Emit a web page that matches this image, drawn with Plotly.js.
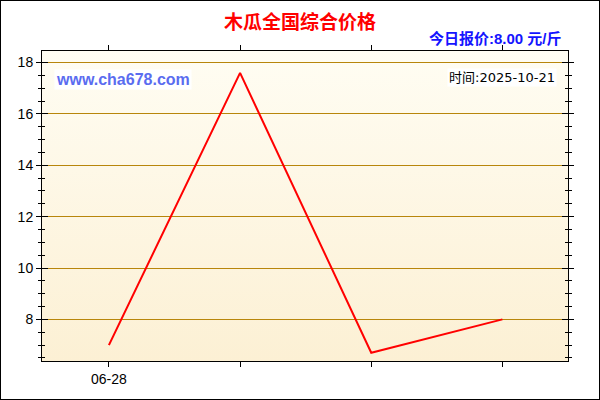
<!DOCTYPE html>
<html>
<head>
<meta charset="utf-8">
<script src="https://cdn.plot.ly/plotly-3.0.1.min.js"></script>
<style>
  body { margin: 0; background: #fff; }
  #chart { width: 600px; height: 400px; box-sizing: border-box; border: 1px solid #000; }
</style>
</head>
<body>
<div id="chart"></div>
<script>
// price points, one per date slot
const xIndex = [0, 1, 2, 3];
const tickLabels = ['06-28', '', '', ''];
const prices = [7.0, 17.6, 6.7, 8.0];

const chartTitle = '木瓜全国综合价格';
const todayPrice = '今日报价:8.00 元/斤';
const siteName = 'www.cha678.com';
const dateText = '时间:2025-10-21';

const W = 598, H = 398;
const M = { l: 41, r: 31, t: 50, b: 38 };
const pw = W - M.l - M.r, ph = H - M.t - M.b;
const px = (x) => (x - 1 - M.l) / pw;      // page pixel -> paper x
const py = (y) => 1 - (y - 1 - M.t) / ph;  // page pixel -> paper y

const bgSvg = 'data:image/svg+xml;charset=utf-8,' + encodeURIComponent(
  '<svg xmlns="http://www.w3.org/2000/svg" width="10" height="100" preserveAspectRatio="none">' +
  '<defs><linearGradient id="g" x1="0" y1="0" x2="0" y2="1">' +
  '<stop offset="0" stop-color="#fffdf3"/><stop offset="1" stop-color="#fcf0d4"/>' +
  '</linearGradient></defs><rect width="10" height="100" fill="url(#g)"/></svg>');

const cjk = '"Noto Sans CJK SC", "Liberation Sans", Arial, sans-serif';
const latinCjk = '"Liberation Sans", Arial, "Noto Sans CJK SC", sans-serif';
const yRange = [6.38, 18.45];

const trace = {
  x: xIndex,
  y: prices,
  type: 'scatter',
  mode: 'lines',
  line: { color: '#ff0000', width: 2 },
  hoverinfo: 'skip',
};

const layout = {
  width: W,
  height: H,
  margin: M,
  paper_bgcolor: '#ffffff',
  plot_bgcolor: 'rgba(0,0,0,0)',
  showlegend: false,
  font: { family: '"Liberation Sans", Arial, sans-serif', size: 14, color: '#000' },
  title: {
    text: chartTitle,
    font: { family: cjk, size: 19, color: '#ff0000', weight: 'bold' },
    x: 0.5, xanchor: 'center',
    yref: 'container', y: 1 - 21 / H, yanchor: 'middle',
  },
  xaxis: {
    range: [-0.51, 3.5],
    tickvals: xIndex,
    ticktext: tickLabels,
    showgrid: false,
    zeroline: false,
    showline: true,
    linecolor: '#000',
    linewidth: 1,
    mirror: 'ticks',
    ticks: 'outside',
    ticklen: 5,
    tickcolor: '#000',
    tickfont: { size: 14, color: '#000' },
  },
  yaxis: {
    range: yRange,
    dtick: 2,
    tick0: 0,
    showgrid: true,
    gridcolor: '#b8860b',
    gridwidth: 1,
    zeroline: false,
    showline: true,
    linecolor: '#000',
    linewidth: 1,
    mirror: 'ticks',
    ticks: 'outside',
    ticklen: 5,
    tickcolor: '#000',
    tickfont: { size: 14, color: '#000' },
    minor: { dtick: 0.5, ticks: 'outside', ticklen: 3, tickcolor: '#000', showgrid: false },
  },
  yaxis2: {
    overlaying: 'y',
    range: yRange,
    dtick: 2,
    tick0: 0,
    showgrid: false,
    zeroline: false,
    showticklabels: false,
    mirror: 'ticks',
    showline: false,
    ticks: 'inside',
    ticklen: 6,
    tickcolor: '#000',
    minor: { dtick: 0.5, ticks: 'inside', ticklen: 3, tickcolor: '#000', showgrid: false },
  },
  images: [{
    source: bgSvg,
    xref: 'paper', yref: 'paper',
    x: 0, y: 1, sizex: 1, sizey: 1,
    sizing: 'stretch',
    xanchor: 'left', yanchor: 'top',
    layer: 'below',
  }],
  annotations: [
    {
      text: '<b>' + todayPrice + '</b>',
      xref: 'paper', yref: 'paper',
      x: px(564), y: py(39),
      xanchor: 'right', yanchor: 'middle',
      showarrow: false,
      font: { family: latinCjk, size: 15, color: '#1414ff' },
    },
    {
      text: '<b>' + siteName + '</b>',
      xref: 'paper', yref: 'paper',
      x: px(54), y: py(80),
      xanchor: 'left', yanchor: 'middle',
      showarrow: false,
      bgcolor: '#ffffff',
      borderpad: 1,
      font: { family: '"Liberation Sans", Arial, sans-serif', size: 16, color: '#5a6cf0' },
    },
    {
      text: dateText,
      xref: 'paper', yref: 'paper',
      x: px(557), y: py(77),
      xanchor: 'right', yanchor: 'middle',
      showarrow: false,
      bgcolor: '#ffffff',
      borderpad: 1,
      font: { family: '"DejaVu Sans", "Noto Sans CJK SC", sans-serif', size: 13, color: '#000' },
    },
  ],
};

// invisible trace so the inside-tick overlay axis is drawn
const tickOverlay = { x: [0], y: [8], yaxis: 'y2', type: 'scatter', mode: 'markers',
  marker: { opacity: 0 }, hoverinfo: 'skip' };

Plotly.newPlot('chart', [trace, tickOverlay], layout, { staticPlot: true, displayModeBar: false });
</script>
</body>
</html>
